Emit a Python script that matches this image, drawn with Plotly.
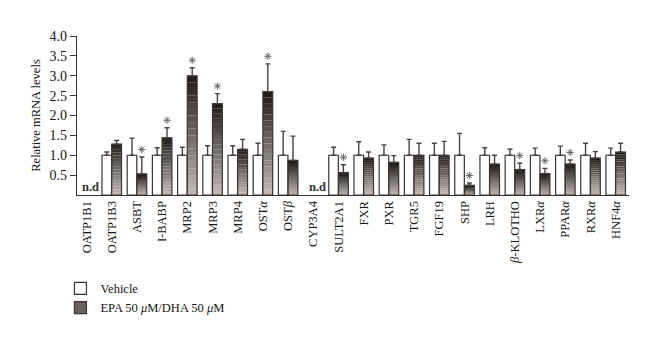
import plotly.graph_objects as go

categories = ["OATP1B1", "OATP1B3", "ASBT", "I-BABP", "MRP2", "MRP3", "MRP4",
              "OST<i>α</i>", "OST<i>β</i>", "CYP3A4", "SULT2A1", "FXR", "PXR",
              "TGR5", "FGF19", "SHP", "LRH", "<i>β</i>-KLOTHO", "LXR<i>α</i>",
              "PPAR<i>α</i>", "RXR<i>α</i>", "HNF4<i>α</i>"]

vehicle = [None, 1.0, 1.0, 1.0, 1.0, 1.0, 1.0, 1.0, 1.0, None, 1.0, 1.0, 1.0,
           1.0, 1.0, 1.0, 1.0, 1.0, 1.0, 1.0, 1.0, 1.0]
vehicle_err_top = [None, 1.08, 1.43, 1.19, 1.20, 1.24, 1.24, 1.30, 1.60, None,
                   1.20, 1.34, 1.26, 1.40, 1.30, 1.55, 1.19, 1.15, 1.18, 1.23,
                   1.30, 1.18]

epa = [None, 1.28, 0.53, 1.44, 3.00, 2.30, 1.15, 2.60, 0.87, None, 0.56, 0.93,
       0.82, 1.00, 1.00, 0.245, 0.78, 0.64, 0.54, 0.78, 0.93, 1.08]
epa_err_top = [None, 1.37, 0.955, 1.69, 3.20, 2.55, 1.40, 3.30, 1.48, None,
               0.76, 1.08, 0.99, 1.30, 1.35, 0.30, 1.00, 0.80, 0.67, 0.88,
               1.09, 1.30]

significant = [False, False, True, True, True, True, False, True, False, False,
               True, False, False, False, False, True, False, True, True, True,
               False, False]
not_detected = [True, False, False, False, False, False, False, False, False,
                True, False, False, False, False, False, False, False, False,
                False, False, False, False]

y_tick_vals = [0.5, 1.0, 1.5, 2.0, 2.5, 3.0, 3.5, 4.0]
y_tick_text = ["0.5", "1.0", "1.5", "2.0", "2.5", "3.0", "3.5", "4.0"]

legend_names = ["Vehicle", "EPA 50 <i>μ</i>M/DHA 50 <i>μ</i>M"]

FONT = "Liberation Serif"
TXT = "#151515"
DARK = "#3a3330"
ERR = "#4a4240"

x_idx = list(range(len(categories)))
V_OFF, V_W = -0.385, 0.38
E_OFF, E_W = 0.0, 0.39

fig = go.Figure()

# Vehicle bars
fig.add_trace(go.Bar(
    x=x_idx, y=vehicle, offset=V_OFF, width=V_W,
    marker=dict(color="white", line=dict(color=DARK, width=1.2)),
    error_y=dict(type="data", symmetric=False,
                 array=[(t - v) if v is not None else None for v, t in zip(vehicle, vehicle_err_top)],
                 arrayminus=[0 if v is not None else None for v in vehicle],
                 color=ERR, thickness=1.4, width=2.5),
    showlegend=False, hoverinfo="skip"))

# EPA bars drawn as a vertical gradient of stacked segments
N = 18
light = (196, 186, 181)
dark = (30, 25, 23)
for k in range(N):
    t = (k + 0.5) / N
    c = tuple(round(light[i] + (dark[i] - light[i]) * t) for i in range(3))
    seg = [(v / N) if v is not None else None for v in epa]
    base = [(v * k / N) if v is not None else None for v in epa]
    fig.add_trace(go.Bar(
        x=x_idx, y=seg, base=base, offset=E_OFF, width=E_W,
        marker=dict(color="rgb(%d,%d,%d)" % c, line=dict(width=0)),
        showlegend=False, hoverinfo="skip"))

# EPA outline + error bars
fig.add_trace(go.Bar(
    x=x_idx, y=epa, offset=E_OFF, width=E_W,
    marker=dict(color="rgba(0,0,0,0)", line=dict(color=DARK, width=1.2)),
    error_y=dict(type="data", symmetric=False,
                 array=[(t - v) if v is not None else None for v, t in zip(epa, epa_err_top)],
                 arrayminus=[0 if v is not None else None for v in epa],
                 color=ERR, thickness=1.4, width=2.5),
    showlegend=False, hoverinfo="skip"))

# Significance asterisks above EPA error bars
sx = [i + E_OFF + E_W / 2 for i, s in enumerate(significant) if s]
sy = [epa_err_top[i] + 0.19 for i, s in enumerate(significant) if s]
fig.add_trace(go.Scatter(
    x=sx, y=sy, mode="markers",
    marker=dict(symbol="asterisk-open", size=6, color="#666",
                line=dict(color="#666", width=1)),
    showlegend=False, hoverinfo="skip"))

# Legend entries
fig.add_trace(go.Bar(x=[None], y=[None], name=legend_names[0],
                     marker=dict(color="white", line=dict(color=DARK, width=1.2))))
fig.add_trace(go.Bar(x=[None], y=[None], name=legend_names[1],
                     marker=dict(color="#6a605c", line=dict(color=DARK, width=1.2))))

annotations = []
for i, nd in enumerate(not_detected):
    if nd:
        annotations.append(dict(x=i + 0.17, y=0.2, xref="x", yref="y", text="<b>n.d</b>",
                                showarrow=False, font=dict(family=FONT, size=12.5, color="#333")))

fig.update_layout(
    width=660, height=344,
    margin=dict(l=77, r=31, t=36, b=148.5),
    paper_bgcolor="white", plot_bgcolor="white",
    barmode="overlay",
    font=dict(family=FONT, size=12, color=TXT),
    xaxis=dict(range=[-0.377, 21.53], tickmode="array",
               tickvals=x_idx, ticktext=categories, tickangle=-90,
               showline=True, linecolor=DARK, linewidth=1.2, ticks="",
               showgrid=False, zeroline=False,
               tickfont=dict(family=FONT, size=12.5, color=TXT)),
    yaxis=dict(range=[0, 4.0], tickmode="array",
               tickvals=y_tick_vals, ticktext=y_tick_text,
               showline=True, linecolor=DARK, linewidth=1.2, ticks="outside",
               ticklen=6, tickcolor=DARK, showgrid=False, zeroline=False,
               title=dict(text="Relative mRNA levels", standoff=6,
                          font=dict(family=FONT, size=12.5, color=TXT)),
               tickfont=dict(family=FONT, size=14, color=TXT)),
    legend=dict(x=-0.03, y=-0.495, xanchor="left", yanchor="top",
                bgcolor="rgba(0,0,0,0)", font=dict(family=FONT, size=12.5, color=TXT),
                tracegroupgap=0, itemwidth=30),
    annotations=annotations,
)

fig.write_html("out.html")
